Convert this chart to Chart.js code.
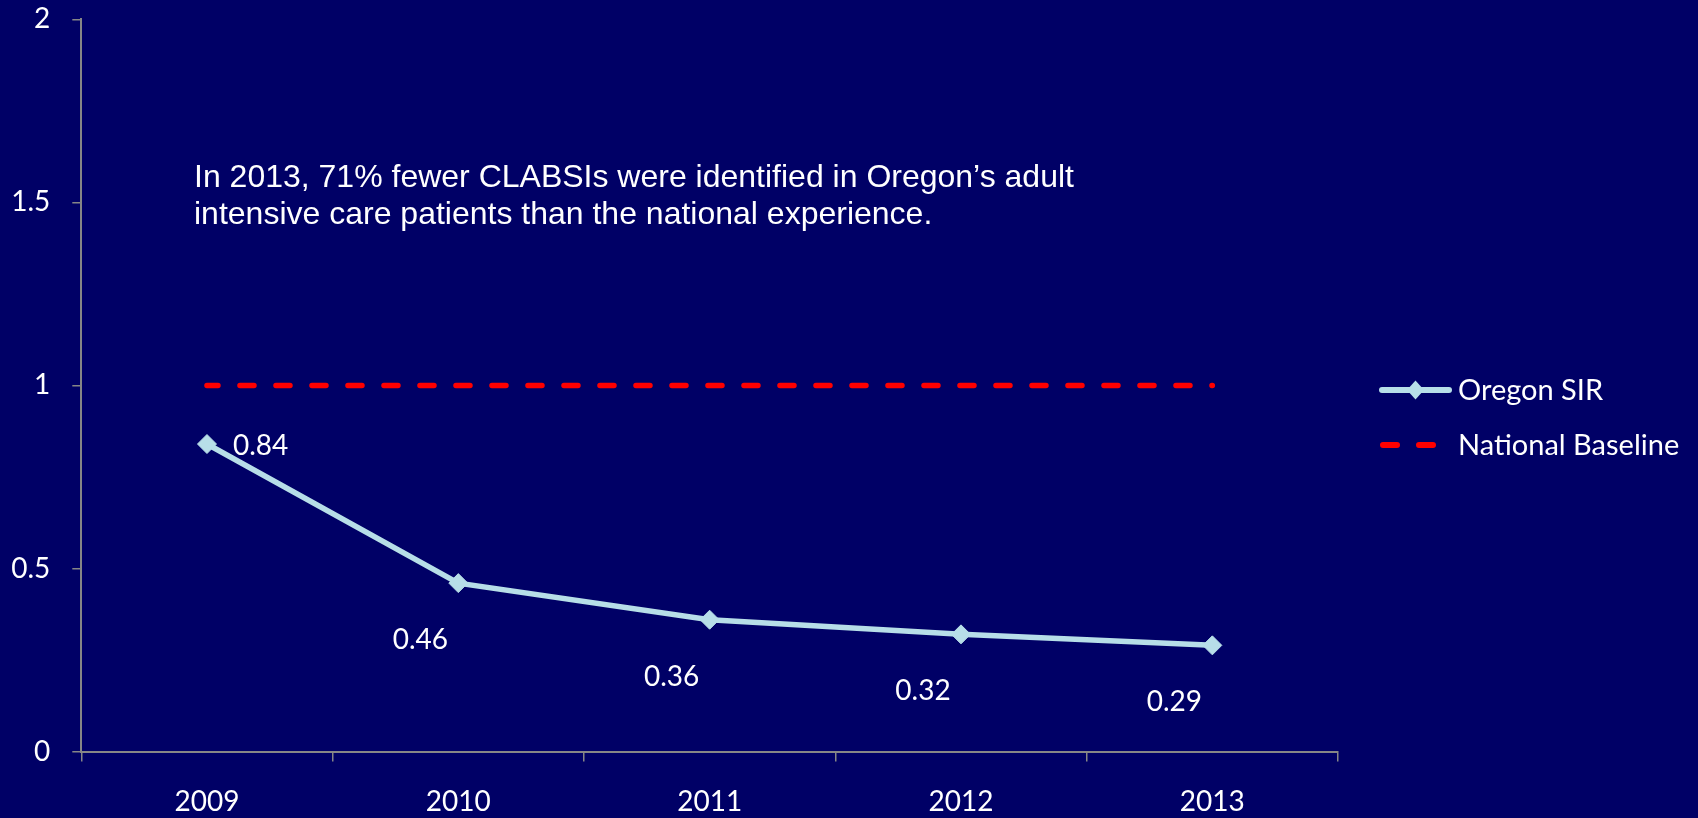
<!DOCTYPE html>
<html>
<head>
<meta charset="utf-8">
<title>Oregon SIR vs National Baseline</title>
<script src="https://cdn.jsdelivr.net/npm/chart.js@4/dist/chart.umd.min.js"></script>
<style>
  html, body { margin: 0; padding: 0; background: #000066; }
  #wrap { position: relative; width: 1698px; height: 818px; }
  canvas { display: block; }
</style>
</head>
<body>
<div id="wrap"><canvas id="chart" width="1698" height="818"></canvas></div>
<script>
// Chart data
const years      = ["2009", "2010", "2011", "2012", "2013"];
const oregonSir  = [0.84, 0.46, 0.36, 0.32, 0.29];
const baseline   = [1, 1, 1, 1, 1];
const yTicks     = [0, 0.5, 1, 1.5, 2];
const seriesNames = ["Oregon SIR", "National Baseline"];
const noteLines  = [
  "In 2013, 71% fewer CLABSIs were identified in Oregon\u2019s adult",
  "intensive care patients than the national experience."
];

// Styling
const BG        = "#000066";
const SIR_COLOR = "#B7DEE8";
const RED       = "#FF0000";
const AXIS      = "#868686";
const LABEL_FONT = "Lato";
const LABEL_SIZE = 28;
const LABEL_POS  = ["right", "below", "below", "below", "below"];

/**
 * Value labels next to each Oregon SIR point
 */
const valueLabels = {
  id: "valueLabels",
  afterDatasetsDraw(chart) {
    const { ctx } = chart;
    const meta = chart.getDatasetMeta(0);
    ctx.save();
    ctx.fillStyle = "#FFFFFF";
    ctx.font = `${LABEL_SIZE}px ${LABEL_FONT}`;
    ctx.textBaseline = "middle";
    meta.data.forEach((pt, i) => {
      const txt = oregonSir[i].toFixed(2);
      if (LABEL_POS[i] === "right") {
        ctx.textAlign = "left";
        ctx.fillText(txt, pt.x + 26, pt.y + 2);
      } else {
        ctx.textAlign = "center";
        ctx.fillText(txt, pt.x - 38, pt.y + 57);
      }
    });
    ctx.restore();
  }
};

/**
 * Annotation text inside the plot area
 */
const noteText = {
  id: "noteText",
  afterDraw(chart) {
    const { ctx } = chart;
    ctx.save();
    ctx.fillStyle = "#FFFFFF";
    ctx.font = "32px 'Liberation Sans', Arial, sans-serif";
    ctx.textAlign = "left";
    ctx.textBaseline = "alphabetic";
    noteLines.forEach((line, i) => ctx.fillText(line, 194, 187 + i * 36.6));
    ctx.restore();
  }
};

/**
 * Legend on the right: line + diamond sample, dashed sample
 */
const sideLegend = {
  id: "sideLegend",
  afterDraw(chart) {
    const { ctx } = chart;
    const x0 = 1382, x1 = 1449, tx = 1458;
    const rows = [390, 445];
    ctx.save();

    // Oregon SIR
    ctx.strokeStyle = SIR_COLOR;
    ctx.lineWidth = 6;
    ctx.lineCap = "round";
    ctx.beginPath();
    ctx.moveTo(x0, rows[0]);
    ctx.lineTo(x1, rows[0]);
    ctx.stroke();
    ctx.fillStyle = SIR_COLOR;
    ctx.beginPath();
    const rx = 8.5, ry = 9.5, cx = (x0 + x1) / 2;
    ctx.moveTo(cx - rx, rows[0]);
    ctx.lineTo(cx, rows[0] - ry);
    ctx.lineTo(cx + rx, rows[0]);
    ctx.lineTo(cx, rows[0] + ry);
    ctx.closePath();
    ctx.fill();

    // National Baseline
    ctx.strokeStyle = RED;
    ctx.setLineDash([14, 22]);
    ctx.beginPath();
    ctx.moveTo(x0 + 1, rows[1]);
    ctx.lineTo(x1, rows[1]);
    ctx.stroke();
    ctx.setLineDash([]);

    ctx.fillStyle = "#FFFFFF";
    ctx.font = `29px ${LABEL_FONT}`;
    ctx.textAlign = "left";
    ctx.textBaseline = "middle";
    seriesNames.forEach((name, i) => ctx.fillText(name, tx, rows[i] + 1));
    ctx.restore();
  }
};

const bgFill = {
  id: "bgFill",
  beforeDraw(chart) {
    const { ctx } = chart;
    ctx.save();
    ctx.fillStyle = BG;
    ctx.fillRect(0, 0, chart.width, chart.height);
    ctx.restore();
  }
};

new Chart(document.getElementById("chart"), {
  type: "line",
  data: {
    labels: years,
    datasets: [
      {
        label: seriesNames[0],
        data: oregonSir,
        borderColor: SIR_COLOR,
        backgroundColor: SIR_COLOR,
        borderWidth: 5.5,
        pointStyle: "rectRot",
        pointRadius: 9.5,
        pointHoverRadius: 9.5,
        pointBorderWidth: 1,
        pointBackgroundColor: SIR_COLOR,
        pointBorderColor: SIR_COLOR,
        tension: 0,
        order: 1,
      },
      {
        label: seriesNames[1],
        data: baseline,
        borderColor: RED,
        borderWidth: 5.5,
        borderDash: [14, 22],
        borderDashOffset: 3,
        borderCapStyle: "round",
        pointRadius: 0,
        pointHoverRadius: 0,
        tension: 0,
        order: 2,
      },
    ],
  },
  options: {
    responsive: false,
    animation: false,
    events: [],
    layout: { padding: { top: 19.4, right: 360, left: 0, bottom: 0 } },
    plugins: {
      legend: { display: false },
      tooltip: { enabled: false },
    },
    scales: {
      x: {
        offset: true,
        grid: {
          offset: true,
          drawOnChartArea: false,
          drawTicks: true,
          tickLength: 10,
          color: AXIS,
          lineWidth: 1.5,
        },
        border: { display: true, color: AXIS, width: 2 },
        ticks: {
          color: "#FFFFFF",
          font: { family: LABEL_FONT, size: LABEL_SIZE },
          padding: 24,
          maxRotation: 0,
        },
        afterFit(scale) {
          scale.height = 818 - 751.5;
          scale.paddingLeft = 0;
          scale.paddingRight = 0;
        },
      },
      y: {
        min: 0,
        max: 2,
        afterBuildTicks(scale) { scale.ticks = yTicks.map(v => ({ value: v })); },
        grid: {
          drawOnChartArea: false,
          drawTicks: true,
          tickLength: 9,
          color: AXIS,
          lineWidth: 1.5,
        },
        border: { display: true, color: AXIS, width: 2 },
        ticks: {
          color: "#FFFFFF",
          font: { family: LABEL_FONT, size: LABEL_SIZE },
          padding: 22,
          callback: (v) => String(v),
        },
        afterFit(scale) {
          scale.width = 81.3;
          scale.paddingTop = 0;
          scale.paddingBottom = 0;
        },
      },
    },
  },
  plugins: [bgFill, valueLabels, noteText, sideLegend],
});
</script>
</body>
</html>
